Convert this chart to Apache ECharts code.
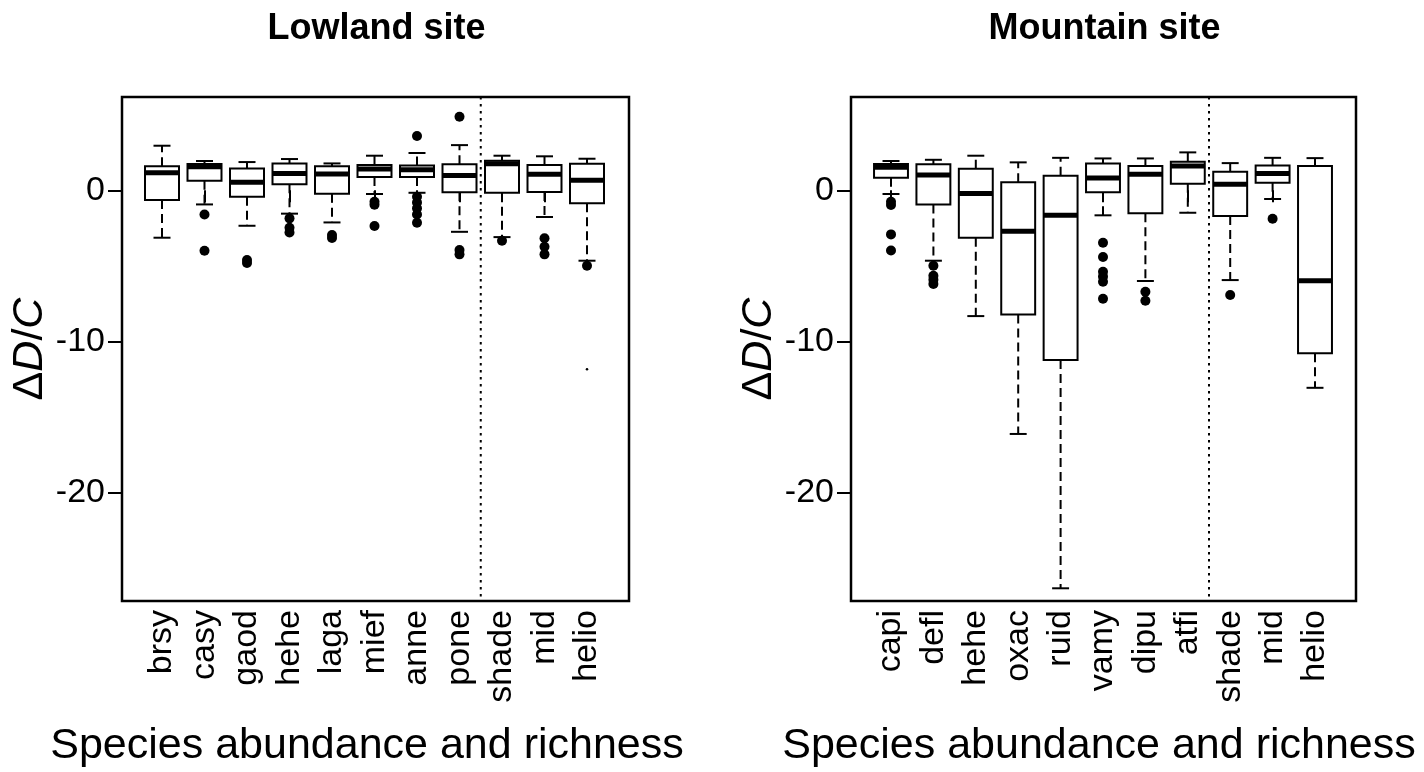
<!DOCTYPE html>
<html><head><meta charset="utf-8">
<script src="https://cdn.jsdelivr.net/npm/echarts@6/dist/echarts.min.js"></script>
<style>html,body{margin:0;padding:0;background:#fff}#c{width:1424px;height:772px}</style>
</head><body><div id="c"></div>
<script>
// ---- Lowland site ----
const lowCats = ['brsy','casy','gaod','hehe','laga','mief','anne','pone','shade','mid','helio'];
const lowWhiskerLo = [-3.13,-0.93,-2.34,-1.54,-2.12,-0.24,-0.16,-2.74,-3.09,-1.76,-4.65];
const lowQ1        = [-0.64, 0.64,-0.42, 0.40,-0.22, 0.88, 0.88,-0.13,-0.16,-0.11,-0.86];
const lowMedian    = [ 1.16, 1.56, 0.53, 1.12, 1.08, 1.41, 1.36, 0.99, 1.76, 1.06, 0.66];
const lowQ3        = [ 1.60, 1.74, 1.45, 1.78, 1.59, 1.67, 1.65, 1.72, 1.96, 1.67, 1.76];
const lowWhiskerHi = [ 2.95, 1.94, 1.87, 2.07, 1.78, 2.29, 2.47, 2.99, 2.29, 2.25, 2.09];
const lowOutliers = [
  ['casy',-1.59],['casy',-3.99],
  ['gaod',-4.60],['gaod',-4.80],
  ['hehe',-1.85],['hehe',-2.47],['hehe',-2.78],
  ['laga',-2.95],['laga',-3.15],
  ['mief',-0.75],['mief',-0.95],['mief',-2.36],
  ['anne',3.59],['anne',-0.42],['anne',-0.80],['anne',-1.19],['anne',-1.59],['anne',-2.14],
  ['pone',4.87],['pone',-3.95],['pone',-4.23],
  ['shade',-3.33],
  ['mid',-3.17],['mid',-3.73],['mid',-4.23],
  ['helio',-4.98]
];
const lowTinyPoints = [['helio',-11.83]];

// ---- Mountain site ----
const mtnCats = ['capi','defl','hehe','oxac','ruid','vamy','dipu','atfi','shade','mid','helio'];
const mtnWhiskerLo = [-0.24,-4.65,-8.31,-16.10,-26.30,-1.65,-5.99,-1.48,-5.93,-0.57,-13.05];
const mtnQ1        = [ 0.83,-0.93,-3.13, -8.20,-11.22,-0.13,-1.52, 0.44,-1.70, 0.50,-10.77];
const mtnMedian    = [ 1.52, 1.01,-0.20, -2.71, -1.65, 0.81, 1.06, 1.61, 0.40, 1.12, -5.97];
const mtnQ3        = [ 1.74, 1.72, 1.43,  0.53,  0.97, 1.78, 1.61, 1.89, 1.23, 1.65,  1.61];
const mtnWhiskerHi = [ 1.94, 2.02, 2.29,  1.85,  2.15, 2.11, 2.11, 2.51, 1.80, 2.15,  2.13];
const mtnOutliers = [
  ['capi',-0.75],['capi',-0.97],['capi',-2.91],['capi',-3.97],
  ['defl',-4.98],['defl',-5.64],['defl',-5.90],['defl',-6.19],
  ['vamy',-3.46],['vamy',-4.41],['vamy',-5.38],['vamy',-5.70],['vamy',-6.04],['vamy',-7.16],
  ['dipu',-6.70],['dipu',-7.30],
  ['shade',-6.92],
  ['mid',-1.88]
];
const mtnTinyPoints = [];

const yTicks = [-20,-10,0];
const yMin = -27.14, yMax = 6.17;
const dividerAfter = 7; // dotted line between category 7 and 8 (pone|shade, atfi|shade)
const xAxisTitle = 'Species abundance and richness';

const FONT = 'Liberation Sans, Arial, sans-serif';

function boxData(cats, lo, q1, med, q3, hi){
  return cats.map((c,i)=>[i, lo[i], q1[i], med[i], q3[i], hi[i]]);
}
function renderBox(params, api){
  const x = api.value(0);
  const pLo = api.coord([x, api.value(1)]);
  const pQ1 = api.coord([x, api.value(2)]);
  const pMed = api.coord([x, api.value(3)]);
  const pQ3 = api.coord([x, api.value(4)]);
  const pHi = api.coord([x, api.value(5)]);
  const band = api.size([1,0])[0];
  const bw = band*0.8, cw = bw*0.5;
  const cx = pQ1[0];
  const solid = {stroke:'#000', lineWidth:2, fill:null};
  const dashed = {stroke:'#000', lineWidth:2, lineDash:[9,5]};
  return {type:'group', children:[
    {type:'line', shape:{x1:cx,y1:pQ3[1],x2:cx,y2:pHi[1]}, style:dashed},
    {type:'line', shape:{x1:cx,y1:pQ1[1],x2:cx,y2:pLo[1]}, style:dashed},
    {type:'line', shape:{x1:cx-cw/2,y1:pHi[1],x2:cx+cw/2,y2:pHi[1]}, style:solid},
    {type:'line', shape:{x1:cx-cw/2,y1:pLo[1],x2:cx+cw/2,y2:pLo[1]}, style:solid},
    {type:'rect', shape:{x:cx-bw/2,y:pQ3[1],width:bw,height:pQ1[1]-pQ3[1]}, style:{stroke:'#000',lineWidth:2,fill:'#fff'}},
    {type:'line', shape:{x1:cx-bw/2,y1:pMed[1],x2:cx+bw/2,y2:pMed[1]}, style:{stroke:'#000',lineWidth:5}}
  ]};
}
function renderDivider(params, api){
  const a = api.coord([dividerAfter, yMax]);
  const b = api.coord([dividerAfter+1, yMin]);
  const x = (a[0]+b[0])/2;
  return {type:'line', shape:{x1:x,y1:a[1],x2:x,y2:b[1]}, style:{stroke:'#000',lineWidth:2,lineDash:[2.5,4.5]}};
}

const panels = [
  {title:'Lowland site', cats:lowCats, box:boxData(lowCats,lowWhiskerLo,lowQ1,lowMedian,lowQ3,lowWhiskerHi), out:lowOutliers, tiny:lowTinyPoints,
   frame:{left:122, right:1424-629}, grid:{left:140.75, right:1424-608.25}, xNameCenter:362},
  {title:'Mountain site', cats:mtnCats, box:boxData(mtnCats,mtnWhiskerLo,mtnQ1,mtnMedian,mtnQ3,mtnWhiskerHi), out:mtnOutliers, tiny:mtnTinyPoints,
   frame:{left:851, right:1424-1356}, grid:{left:869.8, right:1424-1336.2}, xNameCenter:1094}
];
const TOP = 97, BOTTOM = 772-601;

const option = {backgroundColor:'#fff', animation:false, title:[], grid:[], xAxis:[], yAxis:[], series:[]};
panels.forEach((p,k)=>{
  const gi = k*2;
  option.grid.push({left:p.grid.left, right:p.grid.right, top:TOP, bottom:BOTTOM, containLabel:false});
  option.grid.push({left:p.frame.left, right:p.frame.right, top:TOP, bottom:BOTTOM, show:true, borderColor:'#000', borderWidth:2.5, backgroundColor:'transparent', z:0});
  option.title.push({text:p.title, left:(p.frame.left + (1424-p.frame.right))/2 - 4, top:6, textAlign:'center',
    textStyle:{fontFamily:FONT, fontWeight:'bold', fontSize:36, color:'#000'}});
  option.title.push({text:xAxisTitle, left:p.xNameCenter, top:720, textAlign:'center',
    textStyle:{fontFamily:FONT, fontWeight:'normal', fontSize:43, color:'#000'}});
  option.xAxis.push({type:'category', gridIndex:gi, data:p.cats, boundaryGap:true,
    axisLine:{show:false}, axisTick:{show:true, alignWithLabel:true, length:12, lineStyle:{color:'#000', width:2}},
    axisLabel:{rotate:90, margin:9, fontFamily:FONT, fontSize:34, color:'#000', interval:0},
    splitLine:{show:false}});
  option.xAxis.push({type:'value', gridIndex:gi+1, show:false});
  option.yAxis.push({type:'value', gridIndex:gi, min:yMin, max:yMax, offset:p.grid.left-p.frame.left,
    axisLine:{show:false}, splitLine:{show:false},
    axisTick:{show:true, length:14, customValues:yTicks, lineStyle:{color:'#000', width:2}},
    axisLabel:{customValues:yTicks, margin:17, fontFamily:FONT, fontSize:34, color:'#000'},
    name:'{n|Δ}{i|D}{n|/}{i|C}', nameLocation:'middle', nameRotate:90, nameGap:55,
    nameTextStyle:{fontFamily:FONT, fontSize:43, color:'#000', rich:{
      n:{fontFamily:FONT, fontSize:43, color:'#000'},
      i:{fontFamily:FONT, fontSize:43, color:'#000', fontStyle:'italic'}}}});
  option.yAxis.push({type:'value', gridIndex:gi+1, show:false});
  const xi = k*2, yi = k*2;
  option.series.push({type:'custom', xAxisIndex:xi, yAxisIndex:yi, data:[[0,0]], renderItem:renderDivider, z:2, silent:true});
  option.series.push({type:'custom', xAxisIndex:xi, yAxisIndex:yi, data:p.box, renderItem:renderBox,
    encode:{x:0, y:[1,2,3,4,5]}, z:3, silent:true});
  option.series.push({type:'scatter', xAxisIndex:xi, yAxisIndex:yi, data:p.out.map(d=>[p.cats.indexOf(d[0]), d[1]]),
    symbol:'circle', symbolSize:10, itemStyle:{color:'#000', opacity:1}, z:4, silent:true});
  option.series.push({type:'scatter', xAxisIndex:xi, yAxisIndex:yi, data:p.tiny.map(d=>[p.cats.indexOf(d[0]), d[1]]),
    symbol:'circle', symbolSize:2.5, itemStyle:{color:'#000', opacity:1}, z:4, silent:true});
});
const chart = echarts.init(document.getElementById('c'), null, {renderer:'canvas'});
chart.setOption(option);
</script></body></html>
